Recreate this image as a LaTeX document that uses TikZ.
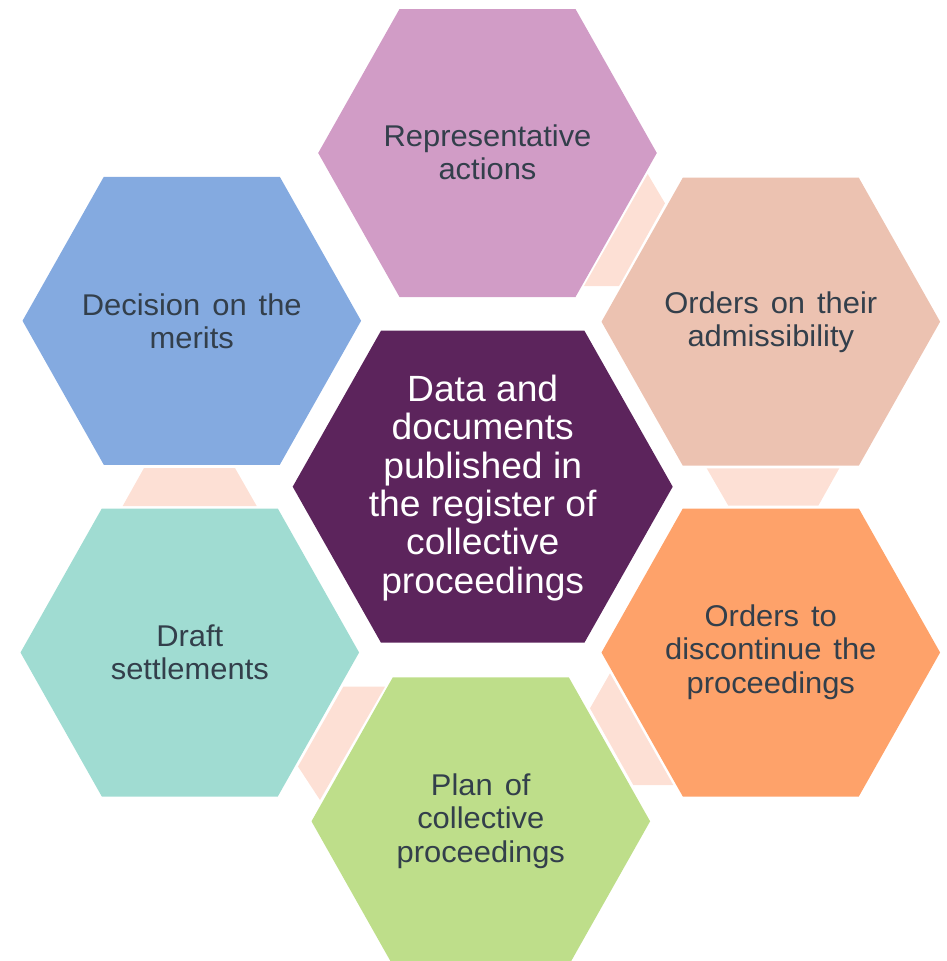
\documentclass[tikz,border=0pt]{standalone}
\usepackage{fontspec}
\setmainfont{Liberation Sans}
\newfontfamily\outerfont[FakeStretch=1.03,WordSpace=1.4]{Liberation Sans}
\newfontfamily\centerfont[FakeStretch=1.02]{Liberation Sans}
\definecolor{cTop}{HTML}{D19CC6}
\definecolor{cTR}{HTML}{ECC2B1}
\definecolor{cBR}{HTML}{FEA26A}
\definecolor{cBot}{HTML}{BEDE8A}
\definecolor{cBL}{HTML}{A0DCD2}
\definecolor{cTL}{HTML}{84AAE0}
\definecolor{cCen}{HTML}{5C245C}
\definecolor{cLink}{HTML}{FDE0D5}
\definecolor{cText}{HTML}{333F4B}
\tikzset{
  outerhex/.pic={\fill[pic actions] (-169.3,0) -- (-88,-144) -- (88,-144) -- (169.3,0) -- (88,144) -- (-88,144) -- cycle;},
  centerhex/.pic={\fill[pic actions] (-190,0) -- (-101.7,-156) -- (101.7,-156) -- (190,0) -- (101.7,156) -- (-101.7,156) -- cycle;},
  lbl/.style={align=center, text=cText, inner sep=0pt, font=\outerfont\fontsize{30}{33.4}\selectfont},
  cenlbl/.style={align=center, text=white, inner sep=0pt, font=\centerfont\fontsize{36.5}{38.3}\selectfont},
  link/.style={fill=cLink}
}
\begin{document}
\begin{tikzpicture}[x=1pt,y=-1pt]
\useasboundingbox (0,0) rectangle (946,961);
% connecting pieces
\fill[link] (647.7,174) -- (665,203.3) -- (619,286) -- (584,286) -- cycle;
\fill[link] (706.7,468.3) -- (839.3,468.3) -- (818.3,505.7) -- (728.3,505.7) -- cycle;
\fill[link] (610,673.3) -- (673.3,785) -- (633.3,785) -- (590,708.3) -- cycle;
\fill[link] (343.3,686.7) -- (385,686.7) -- (320,800) -- (298,766.5) -- cycle;
\fill[link] (144,468) -- (235,468) -- (256.7,506) -- (122.7,506) -- cycle;
% hexagons
\pic[fill=cTop] at (487.5,153) {outerhex};
\pic[fill=cTR] at (770.8,321.7) {outerhex};
\pic[fill=cBR] at (770.8,652.5) {outerhex};
\pic[fill=cBot] at (480.8,821.3) {outerhex};
\pic[fill=cBL] at (189.8,652.5) {outerhex};
\pic[fill=cTL] at (191.8,320.8) {outerhex};
\pic[fill=cCen] at (482.7,486.7) {centerhex};
% labels
\node[lbl] (top) at (487.5,152) {Representative\\actions};
\node[lbl] (tr) at (770.8,322) {Orders on their\\admissibility};
\node[lbl] (br) at (770.8,652) {Orders to\\discontinue the\\proceedings};
\node[lbl] (bot) at (480.8,821) {Plan of\\collective\\proceedings};
\node[lbl] (bl) at (189.8,652) {Draft\\settlements};
\node[lbl] (tl) at (191.8,321) {Decision on the\\merits};
\node[cenlbl] (cen) at (482.7,488) {Data and\\documents\\published in\\the register of\\collective\\proceedings};
\end{tikzpicture}
\end{document}
